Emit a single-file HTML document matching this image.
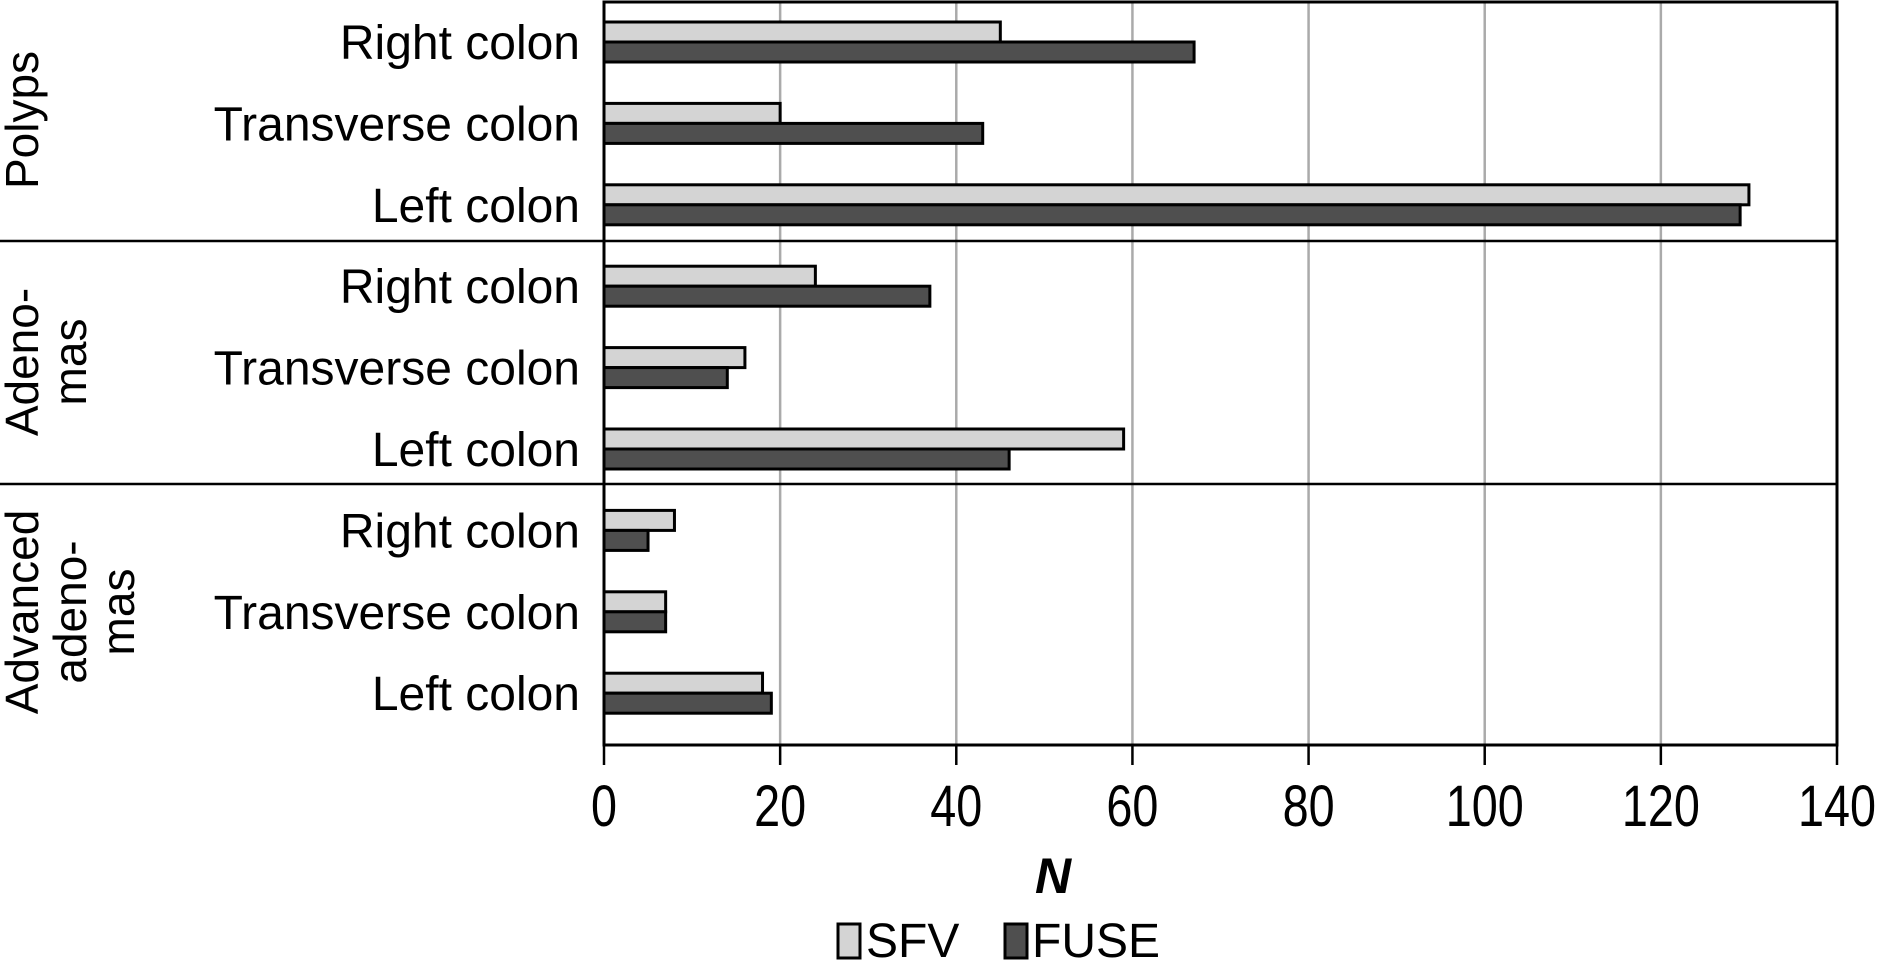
<!DOCTYPE html>
<html><head><meta charset="utf-8"><style>
html,body{margin:0;padding:0;background:#fff}
svg{display:block;font-family:"Liberation Sans",sans-serif}
</style></head><body>
<svg width="1883" height="961" viewBox="0 0 1883 961">
<g id="grid"></g><g id="bars"></g><g id="labels"></g>
<script>
const groups=["Polyps","Adenomas","Advanced adenomas"];
const categories=["Right colon","Transverse colon","Left colon","Right colon","Transverse colon","Left colon","Right colon","Transverse colon","Left colon"];
const sfv=[45,20,130,24,16,59,8,7,18];
const fuse=[67,43,129,37,14,46,5,7,19];
const ticks=[0,20,40,60,80,100,120,140];
const NS="http://www.w3.org/2000/svg";
const X0=604,X1=1837,T=2,B=745;
const x=v=>X0+(v-0)/(140-0)*(X1-X0);
const yc=i=>42+i*81.4;
function mk(p,tag,a){const e=document.createElementNS(NS,tag);for(const k in a)e.setAttribute(k,a[k]);p.appendChild(e);return e;}
const grid=document.getElementById('grid'),bars=document.getElementById('bars'),lab=document.getElementById('labels');
ticks.forEach((t,i)=>{
 if(t>0&&t<140){const l=mk(grid,'line',{x1:x(t),x2:x(t),y1:T,y2:B,stroke:'#aaa','stroke-width':2.5});
 
 }
 const tk=mk(grid,'line',{x1:x(t),x2:x(t),y1:B,y2:B+20,stroke:'#000','stroke-width':2.5});
 
 
 const tx=mk(lab,'text',{x:x(t),y:826,'text-anchor':'middle','font-size':58,'textLength':String(t).length*26,'lengthAdjust':'spacingAndGlyphs'});
 tx.textContent=t;
 
 
});
categories.forEach((c,i)=>{
 const cy=yc(i);
 const a=mk(bars,'rect',{x:x(0),y:cy-20,width:x(sfv[i])-x(0),height:20,fill:'#d4d4d4',stroke:'#000','stroke-width':3});
 
 
 const b=mk(bars,'rect',{x:x(0),y:cy,width:x(fuse[i])-x(0),height:20,fill:'#4f4f4f',stroke:'#000','stroke-width':3});
 
 
 const t=mk(lab,'text',{x:580,y:cy+17,'text-anchor':'end','font-size':48});
 t.textContent=c;
 
 
});
[241,484].forEach(d=>{const l=mk(grid,'line',{x1:0,x2:X1,y1:d,y2:d,stroke:'#000','stroke-width':2.5});
 
 });
const fr=mk(grid,'rect',{x:X0,y:T,width:X1-X0,height:B-T,fill:'none',stroke:'#000','stroke-width':3});


const gl=[[["Polyps"],120],[["Adeno-","mas"],362],[["Advanced","adeno-","mas"],612]];
gl.forEach(([lines,cy],gi)=>{
 lines.forEach((ln,j)=>{
  const xx=38+j*48;
  const t=mk(lab,'text',{x:xx,y:cy,'text-anchor':'middle','font-size':46,transform:`rotate(-90 ${xx} ${cy})`});
  t.textContent=ln;
  
  
 });
});
</script>
<text x="1053" y="893" text-anchor="middle" font-size="50" font-weight="bold" font-style="italic">N</text>
<g>
<rect x="838" y="924" width="22" height="34" fill="#d4d4d4" stroke="#000" stroke-width="3"/>
<text x="866" y="957" font-size="48">SFV</text>
<rect x="1005" y="924" width="22" height="34" fill="#4f4f4f" stroke="#000" stroke-width="3"/>
<text x="1032" y="957" font-size="48">FUSE</text>
</g>
</svg>
</body></html>
